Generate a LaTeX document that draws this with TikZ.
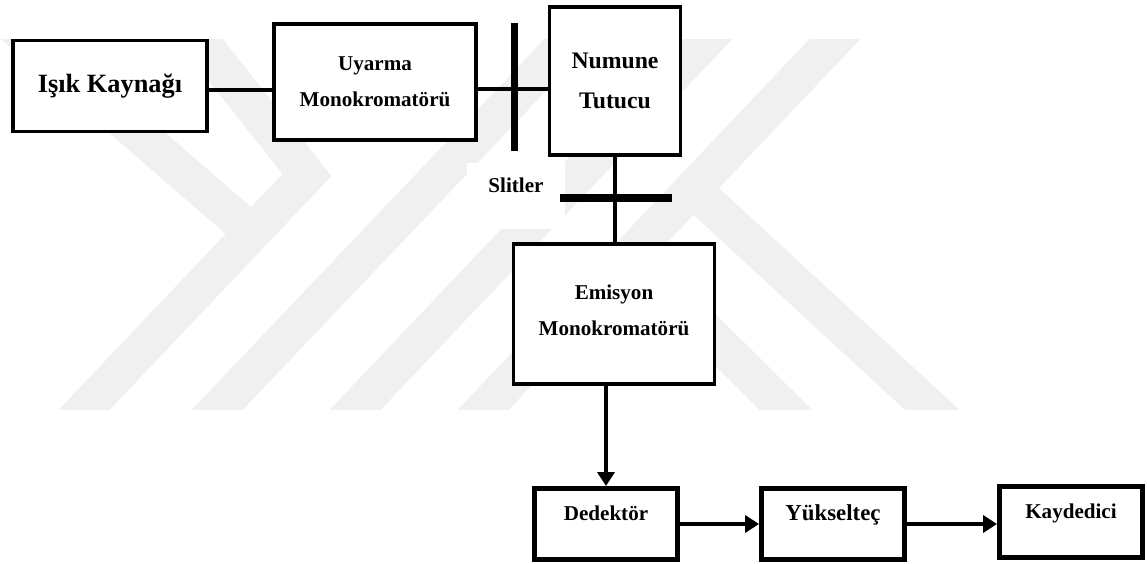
\documentclass[tikz,border=0pt]{standalone}
\usepackage{fontspec}
\setmainfont{Liberation Serif}
\usetikzlibrary{arrows.meta}
\usetikzlibrary{positioning}
\tikzset{box/.style = {draw, fill=white, line width=2.2pt, align=center, inner sep=0pt,
                       font=\bfseries\fontsize{12}{20.5}\selectfont},
         lowbox/.style = {box, line width=2.8pt, minimum width=2.86cm,
                          minimum height=1.42cm, text depth=0.44cm},
         slit/.style = {fill=black, inner sep=0pt},
         wire/.style = {line width=2.4pt},
         flow/.style = {line width=2.6pt, -{Triangle[length=0.28cm, width=0.34cm]}},
         wmark/.style = {line width=0.74cm, black!6}}

\begin{document}
\begin{tikzpicture}[x=0.02cm, y=-0.02cm]
    \useasboundingbox (0,0) rectangle (1147,564);

    % faint logo in the background
    \begin{scope}
      \clip (0,40) rectangle (1147,410);
      \draw [wmark] (7,20) -- (262,241);
      \draw [wmark] (184,20) -- (307,175) -- (65,430);
      \draw [wmark] (198,430) -- (588,20);
      \draw [wmark] (336,430) -- (725,20);
      \draw [wmark] (464,430) -- (853,20);
      \draw [wmark] (620,245) -- (806,430);
      \draw [wmark] (683,180) -- (954,430);
    \end{scope}

    \node [box, font=\bfseries\fontsize{15}{18}\selectfont,
           minimum width=3.88cm, minimum height=1.82cm] (isik) at (110,86) {Işık Kaynağı};
    \node [box, minimum width=4.04cm, minimum height=2.32cm] (uyarma) at (375,82) {Uyarma\\Monokromatörü};
    \node [box, font=\bfseries\fontsize{13.5}{22.7}\selectfont,
           minimum width=2.62cm, minimum height=2.96cm] (numune) at (615,81) {Numune\\Tutucu};
    \node [box, minimum width=4.02cm, minimum height=2.80cm, text depth=0.16cm] (emisyon) at (614,314) {Emisyon\\Monokromatörü};
    \node [lowbox] (dedektor) at (606,524) {Dedektör};
    \node [lowbox, font=\bfseries\fontsize{13}{16}\selectfont] (yukseltec) at (833,524) {Yükselteç};
    \node [lowbox] (kaydedici) at (1071,522) {Kaydedici};

    \node [fill=white, inner sep=0pt, font=\bfseries\fontsize{12}{14}\selectfont,
           minimum width=1.98cm, minimum height=1.34cm, text depth=0.44cm] (slitler) at (516,196) {Slitler};

    \draw [wire] ([yshift=-0.08cm]isik.east) -- ([yshift=-0.08cm]isik.east -| uyarma.west);
    \draw [wire] ([yshift=-0.14cm]uyarma.east) -- ([yshift=-0.14cm]uyarma.east -| numune.west);
    \draw [wire] (numune.south) -- (numune.south |- emisyon.north);

    \node [slit, minimum width=0.14cm, minimum height=2.58cm] (slitA) at (514,87) {};
    \node [slit, minimum width=2.24cm, minimum height=0.16cm] (slitB) at (616,198) {};

    \draw [flow] (emisyon.south -| dedektor.north) -- (dedektor.north);
    \draw [flow] (dedektor.east) -- (yukseltec.west);
    \draw [flow] (yukseltec.east) -- (yukseltec.east -| kaydedici.west);
\end{tikzpicture}
\end{document}
